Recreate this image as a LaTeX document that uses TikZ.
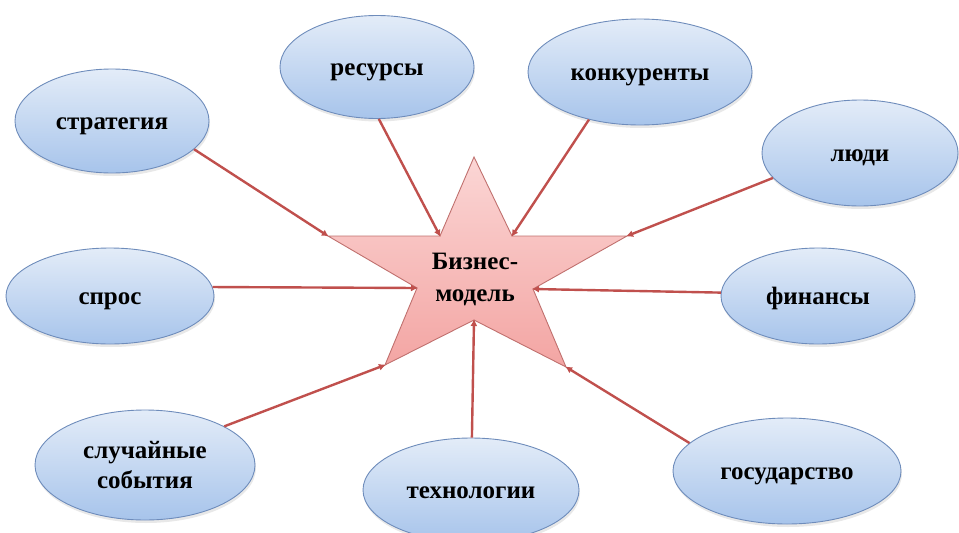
\documentclass[tikz,border=0pt]{standalone}
\usepackage{fontspec}
\setmainfont{Liberation Serif}[BoldFont={Liberation Serif Bold}]
\newfontfamily\lblfont{Liberation Serif Bold}
\usetikzlibrary{shapes.geometric,arrows.meta,shadows}
\definecolor{arr}{HTML}{C0504D}
\definecolor{elltop}{HTML}{E3ECF8}
\definecolor{ellbot}{HTML}{A7C4EB}
\definecolor{ellbd}{HTML}{6E8CBB}
\definecolor{startop}{HTML}{FBD6D5}
\definecolor{starbot}{HTML}{F3A5A3}
\definecolor{starbd}{HTML}{C0706E}
\tikzset{
  lbl/.style={font=\lblfont\fontsize{25}{30}\selectfont, align=center},
  one/.style={text height=17pt, text depth=0pt},
  bubble/.style={lbl, ellipse, draw=ellbd, line width=0.9pt, top color=elltop, bottom color=ellbot,
    inner sep=0pt, drop shadow={opacity=0.18, shadow xshift=1pt, shadow yshift=-3pt}},
  link/.style={draw=arr, line width=2.4pt, -{Latex[length=7pt,width=7pt]}, shorten >=-1pt}
}
\begin{document}
\begin{tikzpicture}[x=1pt,y=-1pt]
\useasboundingbox (0,0) rectangle (959,533);
% star vertices
\coordinate (top) at (474,157);
\coordinate (ur) at (512,236);
\coordinate (rt) at (627,236);
\coordinate (ri) at (533,289);
\coordinate (br) at (566,367);
\coordinate (bi) at (474,320);
\coordinate (bl) at (385,365);
\coordinate (li) at (417,288);
\coordinate (lt) at (328,236);
\coordinate (ul) at (440,236);
\path[draw=starbd, line width=0.9pt, top color=startop, bottom color=starbot, line join=miter]
  (top) -- (ur) -- (rt) -- (ri) -- (br) -- (bi) -- (bl) -- (li) -- (lt) -- (ul) -- cycle;
\node[lbl, font=\lblfont\fontsize{25}{32}\selectfont] (bm) at (475,279) {Бизнес-\\модель};
% ellipses
\node[bubble, one, minimum width=194pt, minimum height=104pt] (strat) at (112,121) {стратегия};
\node[bubble, one, minimum width=194pt, minimum height=103pt] (res) at (377,67) {ресурсы};
\node[bubble, one, minimum width=224pt, minimum height=106pt] (konk) at (640,72) {конкуренты};
\node[bubble, one, minimum width=196pt, minimum height=106pt] (ludi) at (860,153) {люди};
\node[bubble, one, minimum width=208pt, minimum height=96pt] (spros) at (110,296) {спрос};
\node[bubble, one, minimum width=194pt, minimum height=96pt] (fin) at (818,296) {финансы};
\node[bubble, minimum width=220pt, minimum height=110pt] (slu) at (145,465) {случайные\\события};
\node[bubble, one, minimum width=216pt, minimum height=104pt] (tech) at (471,490) {технологии};
\node[bubble, one, minimum width=228pt, minimum height=106pt] (gos) at (787,471) {государство};
% connectors
\draw[link] (strat.-19) -- (lt);
\draw[link] (res.-88) -- (ul);
\draw[link] (konk.-137) -- (ur);
\draw[link] (ludi.196) -- (rt);
\draw[link] (spros.5) -- (li);
\draw[link] (fin.178) -- (ri);
\draw[link] (slu.26) -- (bl);
\draw[link] (tech.89) -- (bi);
\draw[link] (gos.164) -- (br);
\end{tikzpicture}
\end{document}
